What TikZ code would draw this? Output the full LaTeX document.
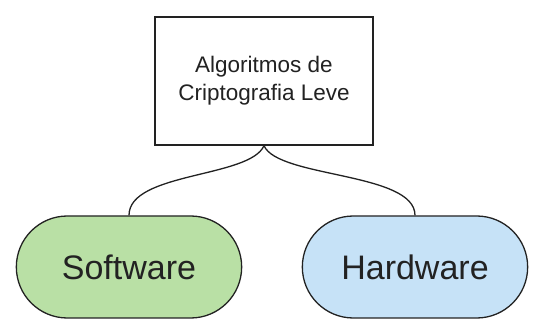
\documentclass[tikz,border=0pt]{standalone}
\usepackage{fontspec}
\setmainfont{Liberation Sans}
\usetikzlibrary{shapes.misc}
\definecolor{soft}{HTML}{B9E0A5}
\definecolor{hard}{HTML}{C6E2F7}
\definecolor{ink}{HTML}{222222}
\tikzset{
  topic/.style={rectangle,draw=ink,fill=white,line width=1.3pt,minimum width=218pt,minimum height=128pt,align=center,text=ink,font=\fontsize{22.5}{28}\selectfont},
  leaf/.style={rounded rectangle,draw=ink,line width=1.3pt,minimum width=232pt,minimum height=102pt,text=ink,font=\fontsize{34}{40}\selectfont},
  link/.style={line width=1.3pt,draw=ink},
}
\begin{document}
\begin{tikzpicture}[x=1pt,y=-1pt]
  \useasboundingbox (0,0) rectangle (533,320);
  \node [topic] at (264,81) (alg) {Algoritmos de\\Criptografia Leve};
  \node [leaf,fill=soft] at (129,267) (sw) {Software};
  \node [leaf,fill=hard] at (415,267) (hw) {Hardware};
  \draw [link] (alg.south) .. controls (250,178) and (129,172) .. (sw.north);
  \draw [link] (alg.south) .. controls (278,178) and (415,172) .. (hw.north);
\end{tikzpicture}
\end{document}
